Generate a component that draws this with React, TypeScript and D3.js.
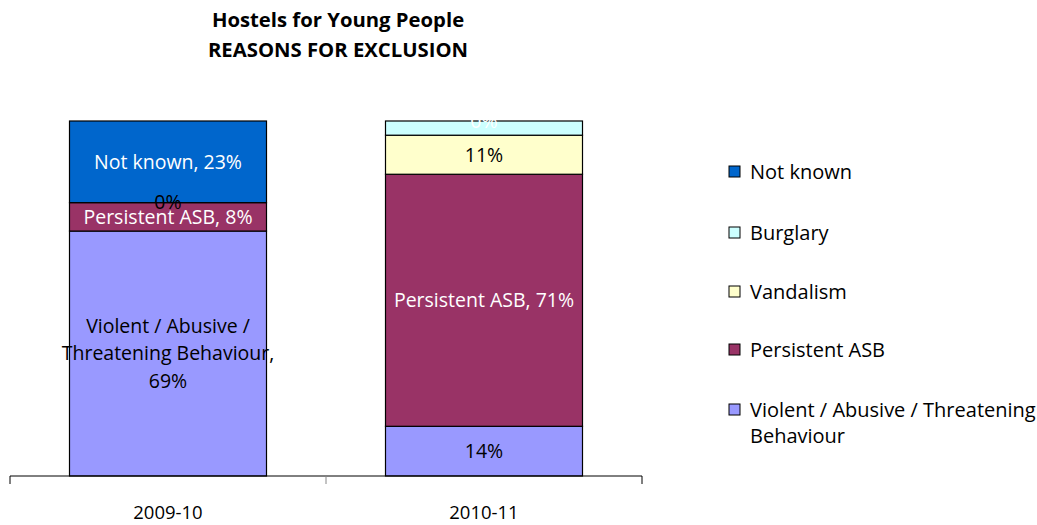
import React from "react";
import * as d3 from "d3";

const categories = ["2009-10", "2010-11"];
const seriesNames = [
  "Violent / Abusive / Threatening Behaviour",
  "Persistent ASB",
  "Vandalism",
  "Burglary",
  "Not known",
];
const violent = [69, 14];
const persistent = [8, 71];
const vandalism = [0, 11];
const burglary = [0, 4];
const notKnown = [23, 0];
const yTicks = [0, 100];

// label modes: "nv" = name + value, "v" = value only, "" = none
const violentLabels = ["nv", "v"];
const persistentLabels = ["nv", "nv"];
const vandalismLabels = ["v", "v"];
const burglaryLabels = ["", ""];
const notKnownLabels = ["nv", "v"];

const colors = ["#9999FF", "#993366", "#FFFFCC", "#CCFFFF", "#0066CC"];
const labelColors = ["#000", "#fff", "#000", "#000", "#fff"];

const FONT = "'Open Sans', sans-serif";

let ctx: CanvasRenderingContext2D | null = null;
function measure(text: string, size: number) {
  if (!ctx) ctx = document.createElement("canvas").getContext("2d");
  ctx!.font = `${size}px 'Open Sans'`;
  return ctx!.measureText(text).width;
}
function wrap(text: string, maxW: number, size: number) {
  const words = text.split(" ");
  const lines: string[] = [];
  let cur = "";
  for (const w of words) {
    const t = cur ? cur + " " + w : w;
    if (measure(t, size) > maxW && cur) {
      lines.push(cur);
      cur = w;
    } else cur = t;
  }
  if (cur) lines.push(cur);
  return lines;
}

export default function App() {
  const W = 1037, H = 525;
  const x0 = 10, x1 = 642, yTop = 121, yBot = 476;
  const x = d3.scaleBand().domain(categories).range([x0, x1]).paddingInner(0).paddingOuter(0);
  const y = d3.scaleLinear().domain([yTicks[0], yTicks[1]]).range([yBot, yTop]);
  const values = [violent, persistent, vandalism, burglary, notKnown];
  const labelModes = [violentLabels, persistentLabels, vandalismLabels, burglaryLabels, notKnownLabels];
  const table = categories.map((c, i) => {
    const o: any = { cat: c };
    seriesNames.forEach((s, k) => (o[s] = values[k][i]));
    return o;
  });
  const stacked = d3.stack().keys(seriesNames)(table);
  const barW = 197;
  const fs = 19.5;

  const rects: any[] = [];
  const labels: any[] = [];
  stacked.forEach((layer, k) => {
    layer.forEach((d, i) => {
      const cx = x(categories[i])! + x.bandwidth() / 2;
      const yt = y(d[1]), yb = y(d[0]);
      if (d[1] - d[0] > 0)
        rects.push(
          <rect key={`r${k}-${i}`} x={cx - barW / 2} y={yt} width={barW} height={yb - yt}
            fill={colors[k]} stroke="#000" strokeWidth={1.2} />
        );
      const mode = labelModes[k][i];
      if (mode) {
        const v = `${Math.round(d[1] - d[0])}%`;
        const text = mode === "nv" ? `${seriesNames[k]}, ${v}` : v;
        const lines = wrap(text, 235, fs);
        const lh = 27.5;
        const cy = (yt + yb) / 2;
        labels.push(
          <text key={`l${k}-${i}`} textAnchor="middle" fontSize={fs} fontFamily={FONT} fill={labelColors[k]}>
            {lines.map((ln, j) => (
              <tspan key={j} x={cx} y={cy + (j - (lines.length - 1) / 2) * lh} dy="0.35em">{ln}</tspan>
            ))}
          </text>
        );
      }
    });
  });

  const legendOrder = [4, 3, 2, 1, 0];
  const legendY = [172, 233, 292, 350, 410];

  return (
    <svg width={W} height={H} style={{ position: "absolute", left: 0, top: 0, background: "#fff" }}>
      <text x={338} y={20} dy="0.35em" textAnchor="middle" fontSize={20.3} fontWeight="bold" fontFamily={FONT}>Hostels for Young People</text>
      <text x={338} y={50} dy="0.35em" textAnchor="middle" fontSize={20.3} fontWeight="bold" fontFamily={FONT}>REASONS FOR EXCLUSION</text>
      {rects}
      {labels}
      <line x1={x0} x2={x1} y1={yBot} y2={yBot} stroke="#000" strokeWidth={1} />
      {[x0, x0 + x.bandwidth(), x1].map((t, i) => (
        <line key={i} x1={t} x2={t} y1={yBot} y2={yBot + 8} stroke={i === 1 ? "#888" : "#000"} strokeWidth={1} />
      ))}
      {categories.map((c) => (
        <text key={c} x={x(c)! + x.bandwidth() / 2} y={513} dy="0.35em" textAnchor="middle" fontSize={18.5} fontFamily={FONT}>{c}</text>
      ))}
      {legendOrder.map((k, i) => {
        const lines = wrap(seriesNames[k], 300, 20);
        return (
          <g key={k}>
            <rect x={729} y={legendY[i] - 6} width={11} height={11} fill={colors[k]} stroke="#000" strokeWidth={1} />
            <text fontSize={20} fontFamily={FONT} fill="#000">
              {lines.map((ln, j) => (
                <tspan key={j} x={750} y={legendY[i] + j * 26} dy="0.35em">{ln}</tspan>
              ))}
            </text>
          </g>
        );
      })}
    </svg>
  );
}
